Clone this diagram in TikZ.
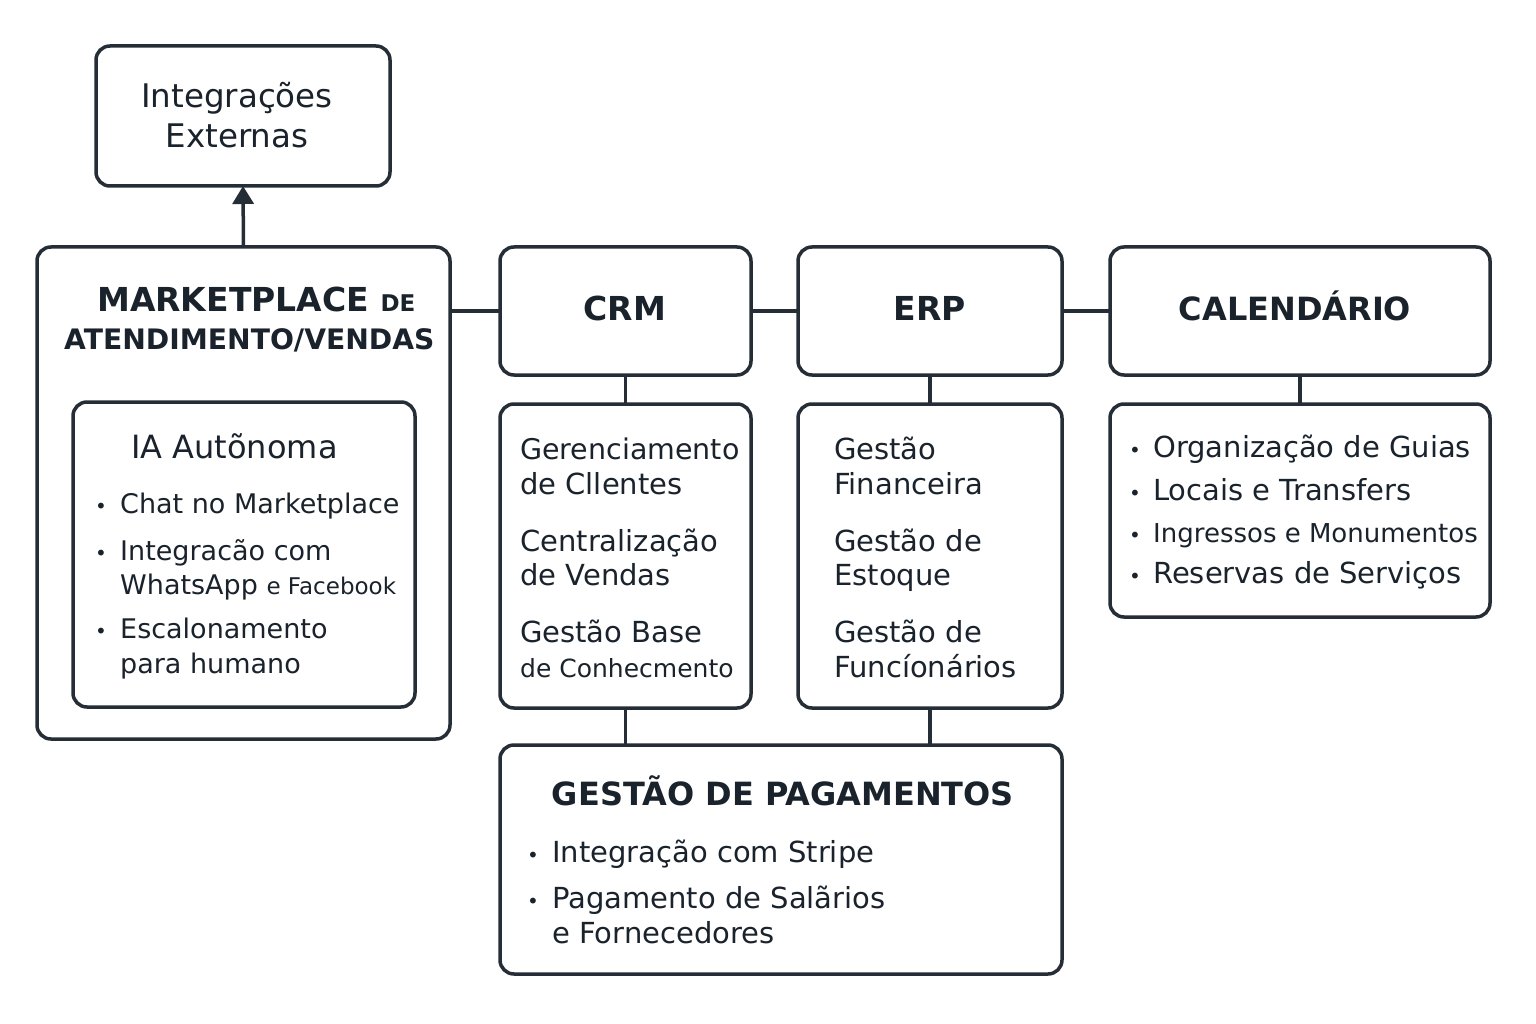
\documentclass[tikz,border=0pt]{standalone}
\usepackage{fontspec}
\setmainfont{DejaVu Sans}
\usetikzlibrary{arrows.meta}
\definecolor{ink}{HTML}{252D36}
\definecolor{txt}{HTML}{1A222C}
\tikzset{
  box/.style={draw=ink, line width=3.5pt, rounded corners=14pt, fill=white, inner sep=0pt, outer sep=0pt},
  conn/.style={draw=ink, line width=3.5pt},
  body/.style={anchor=base west, inner sep=0pt, text=txt, font=\fontsize{29}{34}\selectfont},
  iabody/.style={body, font=\fontsize{27}{33}\selectfont},
  bul/.style={anchor=base, inner sep=0pt, text=txt, font=\fontsize{20}{24}\selectfont},
  head/.style={anchor=base, inner sep=0pt, text=txt, font=\bfseries\fontsize{33}{38}\selectfont},
}
\begin{document}
\begin{tikzpicture}[x=1pt,y=-1pt]
\useasboundingbox[fill=white] (0,0) rectangle (1536,1024);
% boxes
\node[box, minimum width=294pt, minimum height=140pt] (ext) at (243,116) {};
\node[box, minimum width=413pt, minimum height=492pt] (mkt) at (243.5,493) {};
\node[box, minimum width=342pt, minimum height=305pt] (ia) at (244,554.5) {};
\node[box, minimum width=251pt, minimum height=128pt] (crm) at (625.5,311) {};
\node[box, minimum width=264pt, minimum height=128pt] (erp) at (930,311) {};
\node[box, minimum width=380pt, minimum height=128pt] (cal) at (1300,311) {};
\node[box, minimum width=251pt, minimum height=304pt] (crmb) at (625.5,556) {};
\node[box, minimum width=264pt, minimum height=304pt] (erpb) at (930,556) {};
\node[box, minimum width=380pt, minimum height=213pt] (calb) at (1300,510.5) {};
\node[box, minimum width=562pt, minimum height=229pt] (pay) at (781,859.5) {};
% connectors
\draw[conn, -{Triangle[length=18pt,width=21pt]}] (mkt.north) -- (ext.south);
\draw[conn] (mkt.east |- crm.west) -- (crm.west);
\draw[conn] (crm.east) -- (erp.west);
\draw[conn] (erp.east) -- (cal.west);
\draw[conn] (crm.south) -- (crmb.north);
\draw[conn] (erp.south) -- (erpb.north);
\draw[conn] (cal.south) -- (calb.north);
\draw[conn] (crmb.south) -- (crmb.south |- pay.north);
\draw[conn] (erpb.south) -- (erpb.south |- pay.north);
% external integrations
\node[body, anchor=base, font=\fontsize{32.5}{38}\selectfont] (ext1) at (237,108) {Integrações};
\node[body, anchor=base, font=\fontsize{32.5}{38}\selectfont] (ext2) at (237,148) {Externas};
% marketplace
\node[body, font=\bfseries\fontsize{33}{38}\selectfont] (mk1) at (97,311) {MARKETPLACE {\fontsize{23}{26}\selectfont DE}};
\node[body, font=\bfseries\fontsize{28.2}{34}\selectfont] (mk2) at (64,349) {ATENDIMENTO/VENDAS};
\node[body, font=\fontsize{32}{38}\selectfont] (ia0) at (131,458) {IA Autõnoma};
\node[bul] (iab1) at (101,513) {•};
\node[iabody] (ia1) at (120,513) {Chat no Marketplace};
\node[bul] (iab2) at (101,560) {•};
\node[iabody] (ia2) at (120,560) {Integracão com};
\node[iabody] (ia3) at (120,594) {WhatsApp {\fontsize{23}{28}\selectfont e Facebook}};
\node[bul] (iab3) at (101,638) {•};
\node[iabody] (ia4) at (120,638) {Escalonamento};
\node[iabody] (ia5) at (120,673) {para humano};
% headers
\node[head] (crmt) at (625,320) {CRM};
\node[head] (erpt) at (930,320) {ERP};
\node[head, font=\bfseries\fontsize{32}{38}\selectfont] (calt) at (1295,320) {CALENDÁRIO};
% CRM body
\node[body, font=\fontsize{28.5}{34}\selectfont] (c1) at (520,459) {Gerenciamento};
\node[body] (c2) at (520,494) {de Cllentes};
\node[body] (c3) at (520,551) {Centralização};
\node[body] (c4) at (520,585) {de Vendas};
\node[body] (c5) at (520,642) {Gestão Base};
\node[body, font=\fontsize{25}{30}\selectfont] (c6) at (520,677) {de Conhecmento};
% ERP body
\node[body] (e1) at (834,459) {Gestão};
\node[body] (e2) at (834,494) {Financeira};
\node[body] (e3) at (834,551) {Gestão de};
\node[body] (e4) at (834,585) {Estoque};
\node[body] (e5) at (834,642) {Gestão de};
\node[body] (e6) at (834,677) {Funcíonários};
% calendar body
\node[bul] (kb1) at (1135,457) {•};
\node[body] (k1) at (1153,457) {Organização de Guias};
\node[bul] (kb2) at (1135,500) {•};
\node[body] (k2) at (1153,500) {Locais e Transfers};
\node[bul] (kb3) at (1135,542) {•};
\node[body, font=\fontsize{26}{30}\selectfont] (k3) at (1153,542) {Ingressos e Monumentos};
\node[bul] (kb4) at (1135,583) {•};
\node[body] (k4) at (1153,583) {Reservas de Serviços};
% payments
\node[head, font=\bfseries\fontsize{32}{38}\selectfont] (payt) at (783,805) {GESTÃO DE PAGAMENTOS};
\node[bul] (pb1) at (533,862) {•};
\node[body] (p1) at (552,862) {Integração com Stripe};
\node[bul] (pb2) at (533,908) {•};
\node[body] (p2) at (552,908) {Pagamento de Salãrios};
\node[body] (p3) at (552,943) {e Fornecedores};
\end{tikzpicture}
\end{document}
